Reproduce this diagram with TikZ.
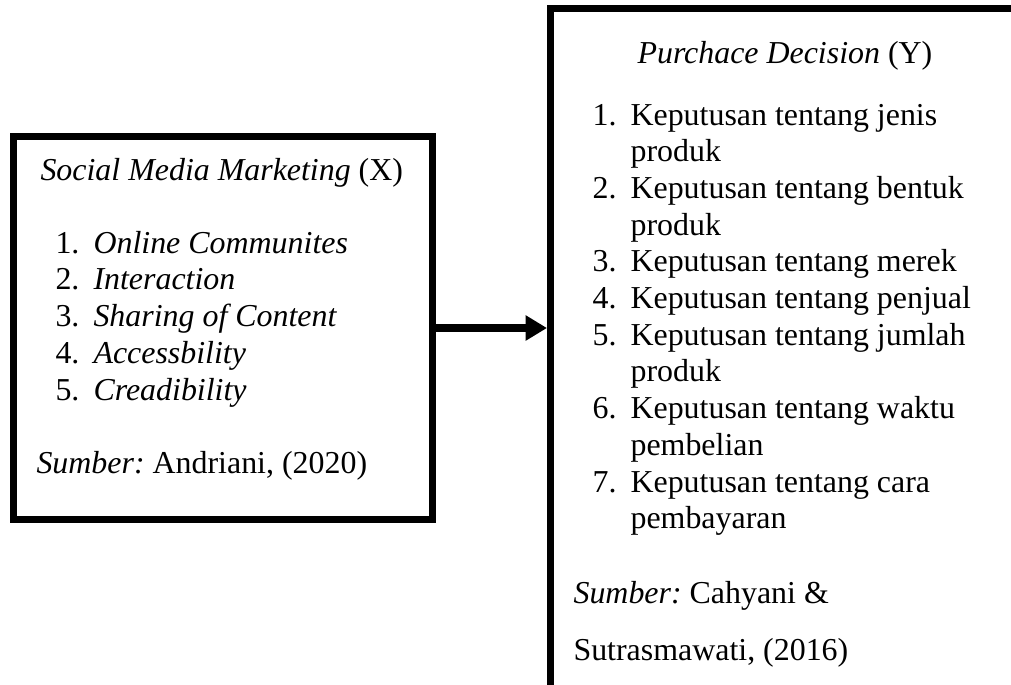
\documentclass[tikz,border=0pt]{standalone}
\usepackage{fontspec}
\setmainfont{Liberation Serif}
\usetikzlibrary{positioning,arrows.meta}
\frenchspacing

\begin{document}
\begin{tikzpicture}[x=0.376pt,y=-0.376pt,
  box/.style={draw=black,line width=2.6pt,inner sep=0pt},
  txt/.style={anchor=base west,inner sep=0pt,font=\fontsize{12}{13.8}\selectfont},
  link/.style={line width=3pt,-{Triangle[length=8pt,width=9pt]}}]
\useasboundingbox (0,0) rectangle (1011,684);
\clip (0,0) rectangle (1011,684);
\node[box,minimum width=157.5pt,minimum height=144pt] (smm) at (223,328) {};
\node[box,anchor=north west,minimum width=190pt,minimum height=275pt] (pd) at (547,5) {};
\draw[link] (smm.east) -- (smm.east -| pd.west);
\node[txt] (smm-title) at (40,180) {\textit{Social Media Marketing} (X)};
\foreach \n/\lbl/\y in {1/Online Communites/253,2/Interaction/289.5,3/Sharing of Content/326,4/Accessbility/363,5/Creadibility/400}{
  \node[txt] (smm-no\n) at (55,\y) {\n.};
  \node[txt] (smm-\n) at (93,\y) {\textit{\lbl}};
}
\node[txt] (smm-src) at (36,473) {{\itshape Sumber:} Andriani, (2020)};
\node[txt] (pd-title) at (637,63) {\textit{Purchace Decision} (Y)};
\foreach \n/\lbl/\y in {1/jenis/125,2/bentuk/198,3/merek/271.5,4/penjual/308,5/jumlah/345,6/waktu/418.5,7/cara/492}{
  \node[txt] (pd-no\n) at (592,\y) {\n.};
  \node[txt] (pd-\n) at (630,\y) {Keputusan tentang \lbl};
}
\foreach \n/\lbl/\y in {1/produk/161.5,2/produk/235,5/produk/381.5,6/pembelian/455,7/pembayaran/528.5}{
  \node[txt] (pd-more\n) at (630,\y) {\lbl};
}
\node[txt] (pd-src1) at (573,603) {{\itshape Sumber:} Cahyani \&};
\node[txt] (pd-src2) at (573,660) {Sutrasmawati, (2016)};
\end{tikzpicture}
\end{document}
